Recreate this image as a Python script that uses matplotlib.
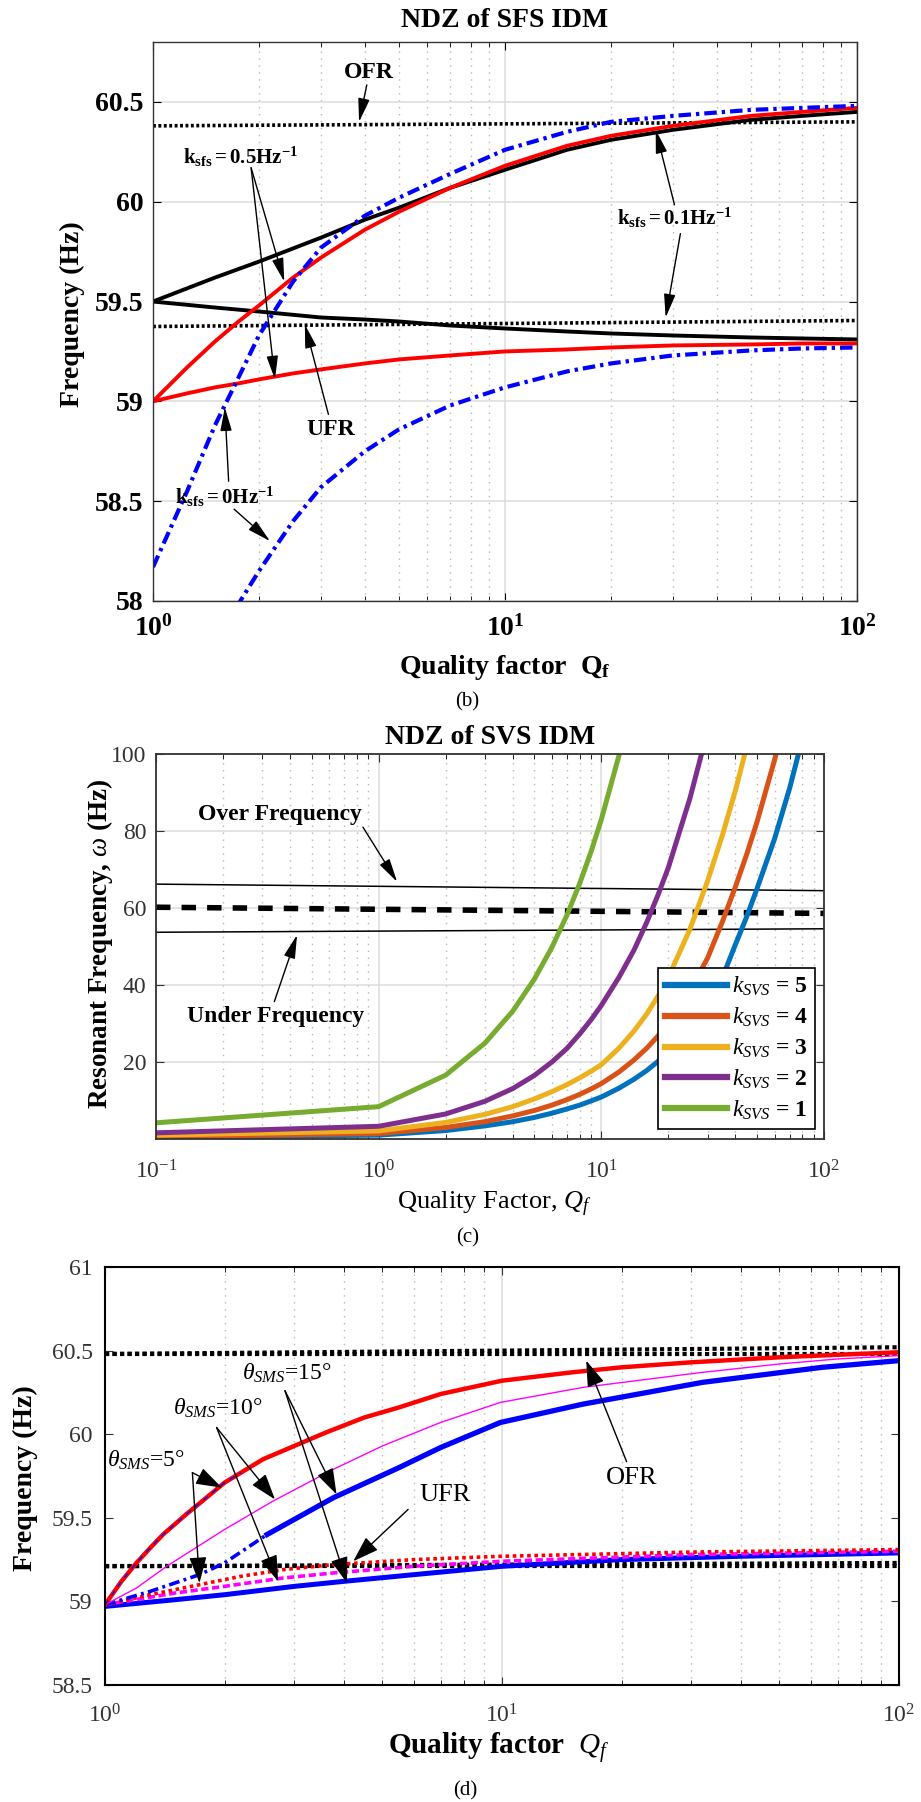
import numpy as np
import matplotlib
matplotlib.use("Agg")
import matplotlib.pyplot as plt
from matplotlib.ticker import NullFormatter

plt.rcParams['font.family'] = ['Liberation Serif', 'DejaVu Serif']
plt.rcParams['mathtext.fontset'] = 'custom'
plt.rcParams['mathtext.rm'] = 'Liberation Serif'
plt.rcParams['mathtext.it'] = 'Liberation Serif:italic'
plt.rcParams['mathtext.bf'] = 'Liberation Serif:bold'

# ---- panel (b): SFS ----
qb_k01 = [1, 1.5, 2, 3, 4, 5, 7, 10, 15, 20, 30, 50, 70, 100]
f_k01_up = [59.50, 59.62, 59.70, 59.82, 59.91, 59.97, 60.07, 60.16, 60.26, 60.31, 60.36, 60.41, 60.43, 60.45]
f_k01_lo = [59.50, 59.47, 59.45, 59.42, 59.41, 59.40, 59.38, 59.365, 59.35, 59.34, 59.33, 59.32, 59.315, 59.31]

qb_k05 = [1, 1.25, 1.5, 1.75, 2, 2.5, 3, 4, 5, 7, 10, 15, 20, 30, 50, 70, 100]
f_k05_up = [59.00, 59.17, 59.30, 59.40, 59.48, 59.62, 59.72, 59.86, 59.95, 60.07, 60.18, 60.28, 60.33, 60.38, 60.43, 60.45, 60.47]
f_k05_lo = [59.00, 59.04, 59.07, 59.09, 59.11, 59.14, 59.16, 59.19, 59.21, 59.23, 59.25, 59.26, 59.27, 59.28, 59.285, 59.29, 59.29]

qb_k0_up = [1, 1.25, 1.5, 1.75, 2, 2.5, 3, 4, 5, 7, 10, 15, 20, 30, 50, 70, 100]
f_k0_up = [58.17, 58.55, 58.88, 59.12, 59.33, 59.60, 59.77, 59.93, 60.02, 60.14, 60.26, 60.35, 60.40, 60.43, 60.46, 60.47, 60.48]
qb_k0_lo = [1.6, 1.77, 2, 2.5, 3, 4, 5, 7, 10, 15, 20, 30, 50, 70, 100]
f_k0_lo = [57.85, 58.0, 58.15, 58.40, 58.57, 58.75, 58.86, 58.98, 59.07, 59.15, 59.19, 59.23, 59.255, 59.265, 59.27]

qb_lim = [1, 100]
ofr_b = [60.38, 60.40]
ufr_b = [59.375, 59.405]

# ---- panel (c): SVS ----
qc = [0.1, 1, 2, 3, 4, 5, 6, 7, 8, 9, 10, 12, 14, 16, 18, 20, 25, 30, 35, 40, 45, 50, 60, 70, 80, 90, 100]
nan = np.nan
svs_k1 = [4.2, 8.4, 16.6, 24.9, 33.2, 41.5, 49.8, 58.1, 66.4, 74.7, 83.0, 99.6, 116] + [nan] * 14
svs_k2 = [1.6, 3.3, 6.5, 9.8, 13.1, 16.5, 20.0, 23.5, 27.3, 31.0, 34.7, 42.0, 49.0, 56.3, 63.5, 70.5, 88.5, 106] + [nan] * 9
svs_k3 = [1.0, 2.1, 4.3, 6.4, 8.4, 10.4, 12.3, 14.1, 15.9, 17.6, 19.3, 23.6, 28.0, 32.5, 37.2, 42.0, 54.5, 67.0, 79.0, 90.5, 102] + [nan] * 6
svs_k4 = [0.6, 1.4, 3.0, 4.5, 6.0, 7.4, 8.8, 10.2, 11.6, 13.0, 14.4, 17.4, 20.5, 23.6, 26.8, 30.0, 38.5, 47.0, 56.5, 65.5, 74.0, 82.3, 98.5, 114] + [nan] * 3
svs_k5 = [0.4, 1.0, 2.2, 3.4, 4.5, 5.6, 6.7, 7.8, 8.8, 9.9, 10.9, 13.2, 15.5, 17.8, 20.2, 22.6, 29.0, 35.5, 42.0, 50.5, 57.8, 65.0, 78.0, 91.0, 104] + [nan] * 2
svs_series = [(svs_k5, 5, '#0072BD'), (svs_k4, 4, '#D95319'), (svs_k3, 3, '#EDB120'),
              (svs_k2, 2, '#7E2F8E'), (svs_k1, 1, '#77AC30')]
qc_lim = [0.1, 100]
over_c = [66.2, 64.5]
nom_c = [60.2, 58.6]
under_c = [53.7, 54.6]

# ---- panel (d): SMS ----
qd_red_up = [1, 1.1, 1.2, 1.3, 1.4, 1.6, 1.8, 2, 2.2, 2.5, 3, 3.6, 4.5, 5.5, 7, 10, 15, 20, 30, 50, 70, 100]
f_red_up = [58.98, 59.12, 59.23, 59.32, 59.40, 59.52, 59.62, 59.71, 59.77, 59.85, 59.93, 60.01, 60.10, 60.16,
            60.24, 60.32, 60.37, 60.40, 60.43, 60.46, 60.475, 60.49]
qd_mag_up = [1, 1.2, 1.43, 2, 2.65, 3.76, 5, 7, 9.9, 16, 32, 50, 70, 100]
f_mag_up = [58.98, 59.08, 59.21, 59.43, 59.60, 59.79, 59.93, 60.07, 60.19, 60.28, 60.37, 60.42, 60.45, 60.47]
qd_blue_up = [1, 1.3, 1.73, 2, 2.56, 3.76, 5.5, 7, 9.9, 16, 32, 64, 100]
f_blue_up = [58.98, 59.06, 59.16, 59.23, 59.40, 59.62, 59.80, 59.92, 60.07, 60.18, 60.31, 60.40, 60.44]

qd_blue_lo = [1, 1.5, 2, 3, 4, 6, 10, 20, 40, 100]
f_blue_lo = [58.97, 59.01, 59.04, 59.09, 59.12, 59.16, 59.21, 59.25, 59.27, 59.29]
qd_red_lo = [1, 1.3, 1.73, 2.2, 2.81, 3.76, 6, 10, 30, 100]
f_red_lo = [58.98, 59.04, 59.10, 59.15, 59.19, 59.22, 59.25, 59.27, 59.295, 59.31]
qd_mag_lo = [1, 1.5, 2, 2.81, 3.76, 6, 10, 30, 100]
f_mag_lo = [58.98, 59.05, 59.09, 59.14, 59.17, 59.21, 59.24, 59.28, 59.30]

qd_lim = [1, 100]
ofr_d = [60.48, 60.52]
ufr_d = [59.21, 59.23]

W, H = 921, 1802
fig = plt.figure(figsize=(W / 100, H / 100), dpi=100)


def box(l, t, r, b):
    return [l / W, 1 - b / H, (r - l) / W, (b - t) / H]


def ftext(x, y, s, **kw):
    fig.text(x / W, 1 - y / H, s, ha='center', va='center', **kw)


def style(ax, ygrid=True, spine='#333333', slw=1.0):
    ax.set_xscale('log')
    ax.set_axisbelow(True)
    ax.grid(which='major', axis='x', color='#dcdcdc', lw=1.1, ls='-')
    ax.grid(which='minor', axis='x', color='#b8b8b8', lw=1.0, ls=(0, (1, 4)))
    if ygrid:
        ax.grid(which='major', axis='y', color='#dcdcdc', lw=1.1, ls='-')
    ax.tick_params(which='both', direction='in', top=True, right=True)
    ax.tick_params(which='major', length=6)
    ax.tick_params(which='minor', length=3.5)
    ax.xaxis.set_minor_formatter(NullFormatter())
    for s in ax.spines.values():
        s.set_color(spine)
        s.set_linewidth(slw)


def arrow(ax, tail, head, ms=16, hw=0.22):
    ax.annotate('', xy=head, xytext=tail,
                arrowprops=dict(arrowstyle='-|>,head_length=0.9,head_width=%g' % hw,
                                color='k', lw=1, shrinkA=0, shrinkB=0, mutation_scale=ms))


# ================= (b) =================
ax = fig.add_axes(box(153, 42, 857, 601))
style(ax)
ax.plot(qb_lim, ofr_b, color='k', lw=2.6, ls=(0, (0.8, 0.7)))
ax.plot(qb_lim, ufr_b, color='k', lw=2.6, ls=(0, (0.8, 0.7)))
ax.plot(qb_k01, f_k01_up, color='k', lw=2.8)
ax.plot(qb_k01, f_k01_lo, color='k', lw=2.8)
ax.plot(qb_k05, f_k05_up, color='#ff0000', lw=2.8)
ax.plot(qb_k05, f_k05_lo, color='#ff0000', lw=2.8)
ax.plot(qb_k0_up, f_k0_up, color='#0000ff', lw=3, ls=(0, (3, 1.2, 0.8, 1.2)))
ax.plot(qb_k0_lo, f_k0_lo, color='#0000ff', lw=3, ls=(0, (3, 1.2, 0.8, 1.2)))
ax.set_xlim(1, 100)
ax.set_ylim(58, 60.8)
ax.set_xticks([1, 10, 100], [r'$\mathbf{10^{0}}$', r'$\mathbf{10^{1}}$', r'$\mathbf{10^{2}}$'])
ax.set_yticks([58, 58.5, 59, 59.5, 60, 60.5], ['58', '58.5', '59', '59.5', '60', '60.5'])
ax.tick_params(axis='y', labelsize=20, pad=7)
ax.tick_params(axis='x', labelsize=20, pad=10)
for t in ax.get_yticklabels():
    t.set_fontweight('bold')
ax.set_title('NDZ of SFS IDM', fontsize=20, fontweight='bold', pad=11)

bold = dict(fontsize=17, fontweight='bold', ha='center', va='center')
ax.text(4.1, 60.645, 'OFR', **bold)
arrow(ax, (4.05, 60.585), (3.85, 60.40))
ax.text(1.22, 60.225, r'$\mathbf{k_{sfs}=0.5Hz^{-1}}$', fontsize=15, ha='left', va='center')
arrow(ax, (1.9, 60.17), (2.36, 59.60))
arrow(ax, (1.9, 60.17), (2.22, 59.11))
ax.text(20.8, 59.92, r'$\mathbf{k_{sfs}=0.1Hz^{-1}}$', fontsize=15, ha='left', va='center')
arrow(ax, (30.3, 59.985), (26.8, 60.36))
arrow(ax, (31.5, 59.84), (28.6, 59.42))
ax.text(3.2, 58.86, 'UFR', **bold)
arrow(ax, (3.15, 58.935), (2.70, 59.385))
ax.text(1.155, 58.52, r'$\mathbf{k_{sfs}=0Hz^{-1}}$', fontsize=15, ha='left', va='center')
arrow(ax, (1.64, 58.60), (1.60, 58.97))
arrow(ax, (1.70, 58.46), (2.15, 58.30))

ftext(72, 314, 'Frequency (Hz)', fontsize=20, fontweight='bold', rotation=90)
ftext(505, 667, r'Quality factor  $\mathbf{Q_f}$', fontsize=20, fontweight='bold')
ftext(467, 702, '(b)', fontsize=15)

# ================= (c) =================
ax = fig.add_axes(box(156, 754, 824, 1139))
style(ax, spine='#333333', slw=1.3)
ax.plot(qc_lim, over_c, color='k', lw=1.1)
ax.plot(qc_lim, under_c, color='k', lw=1.1)
ax.plot(qc_lim, nom_c, color='k', lw=4.0, ls=(0, (2.6, 2)))
for vals, k, col in svs_series:
    ax.plot(qc, vals, color=col, lw=3.6, label=r'$k_{SVS}$ = %d' % k)
ax.set_xlim(0.1, 100)
ax.set_ylim(0, 100)
ax.set_xticks([0.1, 1, 10, 100], [r'$10^{-1}$', r'$10^{0}$', r'$10^{1}$', r'$10^{2}$'])
ax.set_yticks([20, 40, 60, 80, 100])
ax.tick_params(axis='both', labelsize=17, colors='#333333')
ax.tick_params(axis='x', pad=15)
ax.tick_params(axis='y', pad=7)
ax.set_title('NDZ of SVS IDM', fontsize=20, fontweight='bold', pad=7)
leg = ax.legend(loc='lower right', bbox_to_anchor=(0.9865, 0.026), fancybox=False,
                edgecolor='k', framealpha=1, handlelength=2.6, borderpad=0.3,
                labelspacing=0.32, handletextpad=0.2, borderaxespad=0,
                prop={'family': 'Liberation Serif', 'weight': 'bold', 'size': 17})
leg.get_frame().set_linewidth(1.2)
for ln in leg.get_lines():
    ln.set_linewidth(4.5)

ax.text(0.36, 84.4, 'Over Frequency', **bold)
arrow(ax, (0.85, 81), (1.21, 66.8))
ax.text(0.346, 31.7, 'Under Frequency', **bold)
arrow(ax, (0.34, 35.7), (0.43, 53))

ftext(100, 944, r'Resonant Frequency, $\omega$ (Hz)', fontsize=19.5, fontweight='bold', rotation=90)
ftext(494, 1204, r'Quality Factor, $Q_f$', fontsize=19)
ftext(468, 1238, '(c)', fontsize=15)

# ================= (d) =================
ax = fig.add_axes(box(105, 1267, 899, 1685))
style(ax, ygrid=False, spine='k', slw=1.5)
dots = (0, (1, 0.8))
ax.plot(qd_lim, [ofr_d[0], ofr_d[0]], color='k', lw=3, ls=dots)
ax.plot(qd_lim, ofr_d, color='k', lw=3, ls=dots)
ax.plot(qd_lim, [ufr_d[0], ufr_d[0]], color='k', lw=3, ls=dots)
ax.plot(qd_lim, ufr_d, color='k', lw=3, ls=dots)

ax.plot(qd_blue_lo, f_blue_lo, color='#0000ff', lw=3.6)
ax.plot(qd_mag_lo, f_mag_lo, color='#ff00ff', lw=2.6, ls=(0, (2, 1)))
ax.plot(qd_red_lo, f_red_lo, color='#ff0000', lw=2.6, ls=(0, (1, 1)))

ax.plot(qd_blue_up[:5], f_blue_up[:5], color='#0000ff', lw=2.6, ls=(0, (3, 1.2, 0.8, 1.2)))
ax.plot(qd_blue_up[4:], f_blue_up[4:], color='#0000ff', lw=3.8)
ax.plot(qd_mag_up, f_mag_up, color='#ff00ff', lw=1.0)
ax.plot(qd_red_up, f_red_up, color='#ff0000', lw=3.2)
ax.plot(qd_red_up[:9], f_red_up[:9], color='#0000ff', lw=1.0, ls=(0, (4, 4)))

ax.set_xlim(1, 100)
ax.set_ylim(58.5, 61)
ax.set_xticks([1, 10, 100], [r'$10^{0}$', r'$10^{1}$', r'$10^{2}$'])
ax.set_yticks([58.5, 59, 59.5, 60, 60.5, 61], ['58.5', '59', '59.5', '60', '60.5', '61'])
ax.tick_params(axis='both', labelsize=17, colors='#333333')
ax.tick_params(axis='x', pad=14)
ax.tick_params(axis='y', pad=9)

theta = dict(fontsize=17, ha='left', va='center')
ax.text(1.01, 59.846, r'$\theta_{SMS}$=5°', **theta)
arrow(ax, (1.66, 59.77), (1.97, 59.68), ms=18, hw=0.3)
arrow(ax, (1.66, 59.77), (1.73, 59.11), ms=18, hw=0.3)
ax.text(1.48, 60.157, r'$\theta_{SMS}$=10°', **theta)
arrow(ax, (1.91, 60.04), (2.68, 59.61), ms=18, hw=0.3)
arrow(ax, (1.91, 60.04), (2.73, 59.12), ms=18, hw=0.3)
ax.text(2.21, 60.366, r'$\theta_{SMS}$=15°', **theta)
arrow(ax, (2.84, 60.26), (3.83, 59.64), ms=18, hw=0.3)
arrow(ax, (2.84, 60.26), (4.07, 59.11), ms=18, hw=0.3)
ax.text(7.18, 59.636, 'UFR', fontsize=19, ha='center', va='center')
arrow(ax, (5.8, 59.55), (4.22, 59.24), ms=18, hw=0.3)
ax.text(21.2, 59.74, 'OFR', fontsize=19, ha='center', va='center')
arrow(ax, (20.6, 59.836), (16.3, 60.44), ms=18, hw=0.3)

ftext(25, 1478, 'Frequency (Hz)', fontsize=20, fontweight='bold', rotation=90)
ftext(499, 1748, r'Quality factor  $Q_f$', fontsize=21, fontweight='bold')
ftext(465, 1791, '(d)', fontsize=15)

fig.savefig('out.png', dpi=100)
